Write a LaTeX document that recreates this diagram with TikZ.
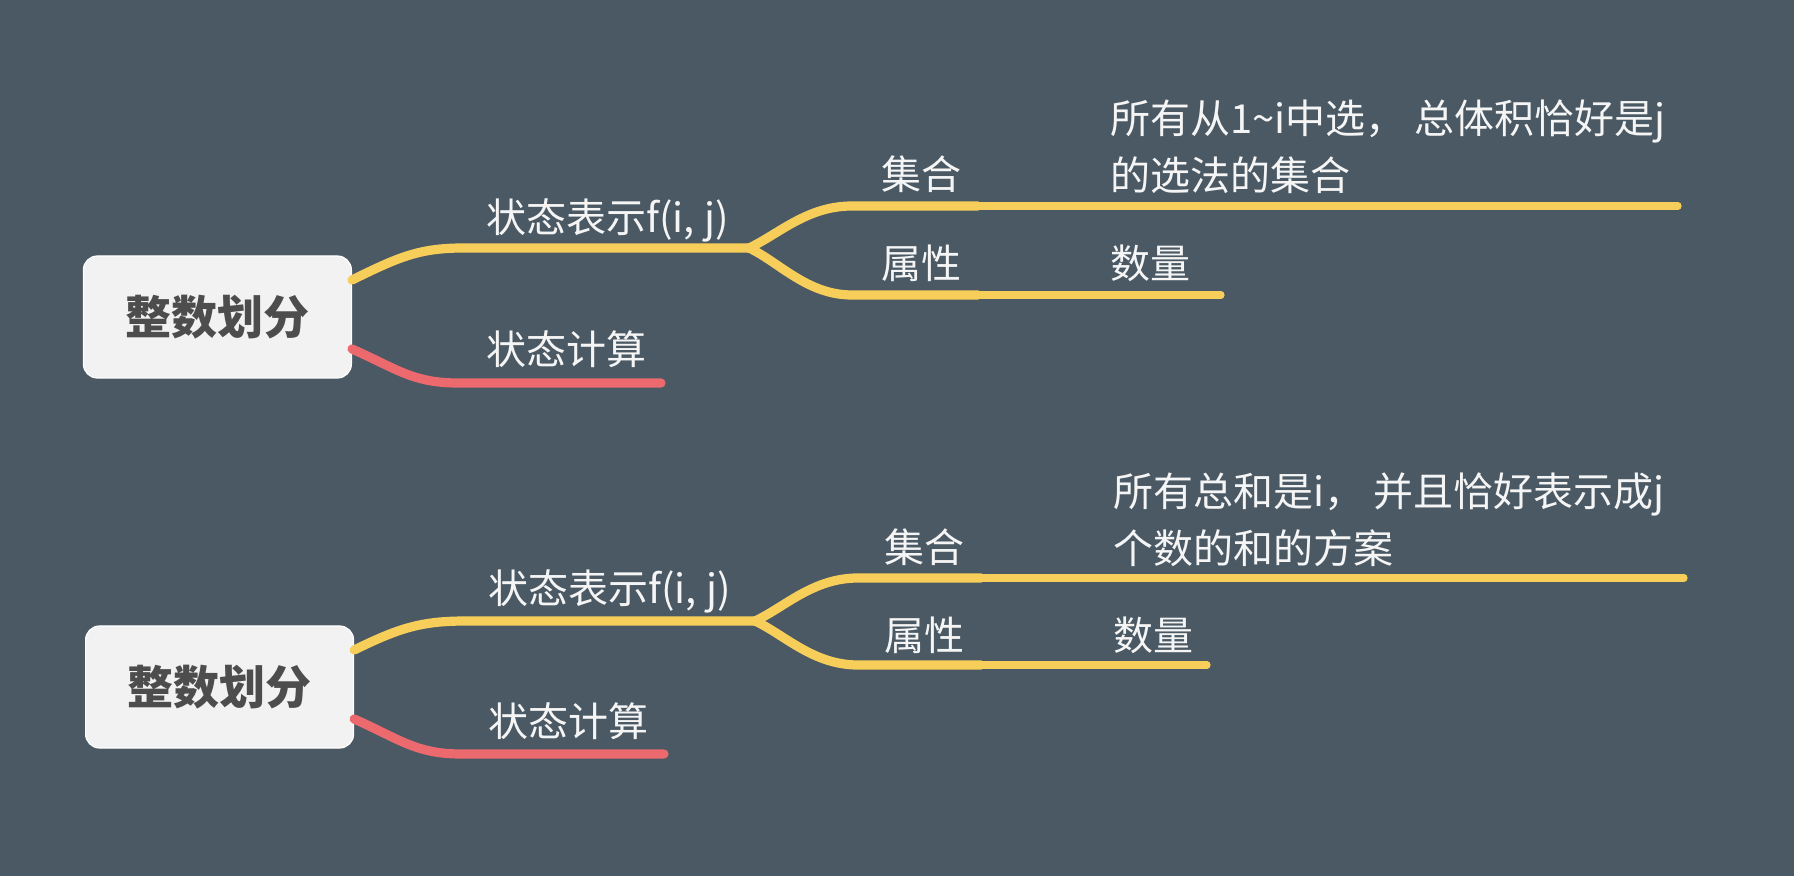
\documentclass[tikz,border=0pt]{standalone}
\usepackage{fontspec}
\setmainfont{Noto Sans CJK SC}
\usetikzlibrary{positioning, calc}
\definecolor{bgslate}{RGB}{74,89,100}
\definecolor{rootfill}{RGB}{242,242,242}
\definecolor{roottext}{RGB}{77,77,77}
\definecolor{branchyellow}{RGB}{248,206,90}
\definecolor{branchred}{RGB}{236,105,110}
\definecolor{leaftext}{RGB}{245,245,245}

\begin{document}
\begin{tikzpicture}[
    x=0.5pt, y=-0.5pt,
    rootbox/.style={draw=white, line width=0.6pt, fill=rootfill, rounded corners=7pt,
                    minimum width=134pt, minimum height=61pt, text=roottext,
                    font=\fontsize{23}{28}\selectfont\bfseries},
    lbl/.style={anchor=west, inner sep=0pt, text=leaftext, align=left,
                font=\fontsize{20}{28.5}\selectfont},
    yel/.style={draw=branchyellow, line width=4.6pt, line cap=round},
    yelthin/.style={yel, line width=3.6pt},
    redline/.style={draw=branchred, line width=4.6pt, line cap=round}]
  \fill[bgslate] (0,0) rectangle (1794,876);
  \useasboundingbox (0,0) rectangle (1794,876);

  % first tree
  \node[rootbox] (root1) at (217.4,317) {整数划分};
  \coordinate (k1) at (463,248);
  \coordinate (f1) at (749,248);
  \coordinate (u1) at (852,206);  \coordinate (um1) at (978,206);  \coordinate (ue1) at (1678,206);
  \coordinate (d1) at (852,295);  \coordinate (dm1) at (978,295);  \coordinate (de1) at (1221,295);
  \coordinate (r1) at (458,383);  \coordinate (re1) at (661,383);
  \node[lbl] (rep1) at (486,220) {状态表示f(i, j)};
  \node[lbl] (calc1) at (486,349) {状态计算};
  \node[lbl] (set1) at (881,174) {集合};
  \node[lbl] (prop1) at (881,263) {属性};
  \node[lbl] (setd1) at (1110,146.5) {所有从1\textasciitilde i中选， 总体积恰好是j\\的选法的集合};
  \node[lbl] (cnt1) at (1110,263) {数量};
  \draw[yel] ($(root1.east)+(0,-37)$) .. controls +(45,-22) and +(-45,0) .. (k1) -- (f1);
  \draw[yel] (f1) .. controls +(30,-14) and +(-45,0) .. (u1) -- (um1);
  \draw[yel] (f1) .. controls +(30,14) and +(-45,0) .. (d1) -- (dm1);
  \draw[yelthin] (um1) -- (ue1);
  \draw[yelthin] (dm1) -- (de1);
  \draw[redline] ($(root1.east)+(0,32)$) .. controls +(45,20) and +(-45,0) .. (r1) -- (re1);

  % second tree
  \node[rootbox] (root2) at (219.6,687) {整数划分};
  \coordinate (k2) at (466,621);
  \coordinate (f2) at (755,621);
  \coordinate (u2) at (858,578);  \coordinate (um2) at (981,578);  \coordinate (ue2) at (1684,578);
  \coordinate (d2) at (858,665);  \coordinate (dm2) at (981,665);  \coordinate (de2) at (1207,665);
  \coordinate (r2) at (461,754);  \coordinate (re2) at (664,754);
  \node[lbl] (rep2) at (488,591) {状态表示f(i, j)};
  \node[lbl] (calc2) at (488,721) {状态计算};
  \node[lbl] (set2) at (884,547) {集合};
  \node[lbl] (prop2) at (884,635) {属性};
  \node[lbl] (setd2) at (1113,519.5) {所有总和是i， 并且恰好表示成j\\个数的和的方案};
  \node[lbl] (cnt2) at (1113,635) {数量};
  \draw[yel] ($(root2.east)+(0,-37)$) .. controls +(45,-22) and +(-45,0) .. (k2) -- (f2);
  \draw[yel] (f2) .. controls +(30,-14) and +(-45,0) .. (u2) -- (um2);
  \draw[yel] (f2) .. controls +(30,14) and +(-45,0) .. (d2) -- (dm2);
  \draw[yelthin] (um2) -- (ue2);
  \draw[yelthin] (dm2) -- (de2);
  \draw[redline] ($(root2.east)+(0,32)$) .. controls +(45,20) and +(-45,0) .. (r2) -- (re2);
\end{tikzpicture}
\end{document}
